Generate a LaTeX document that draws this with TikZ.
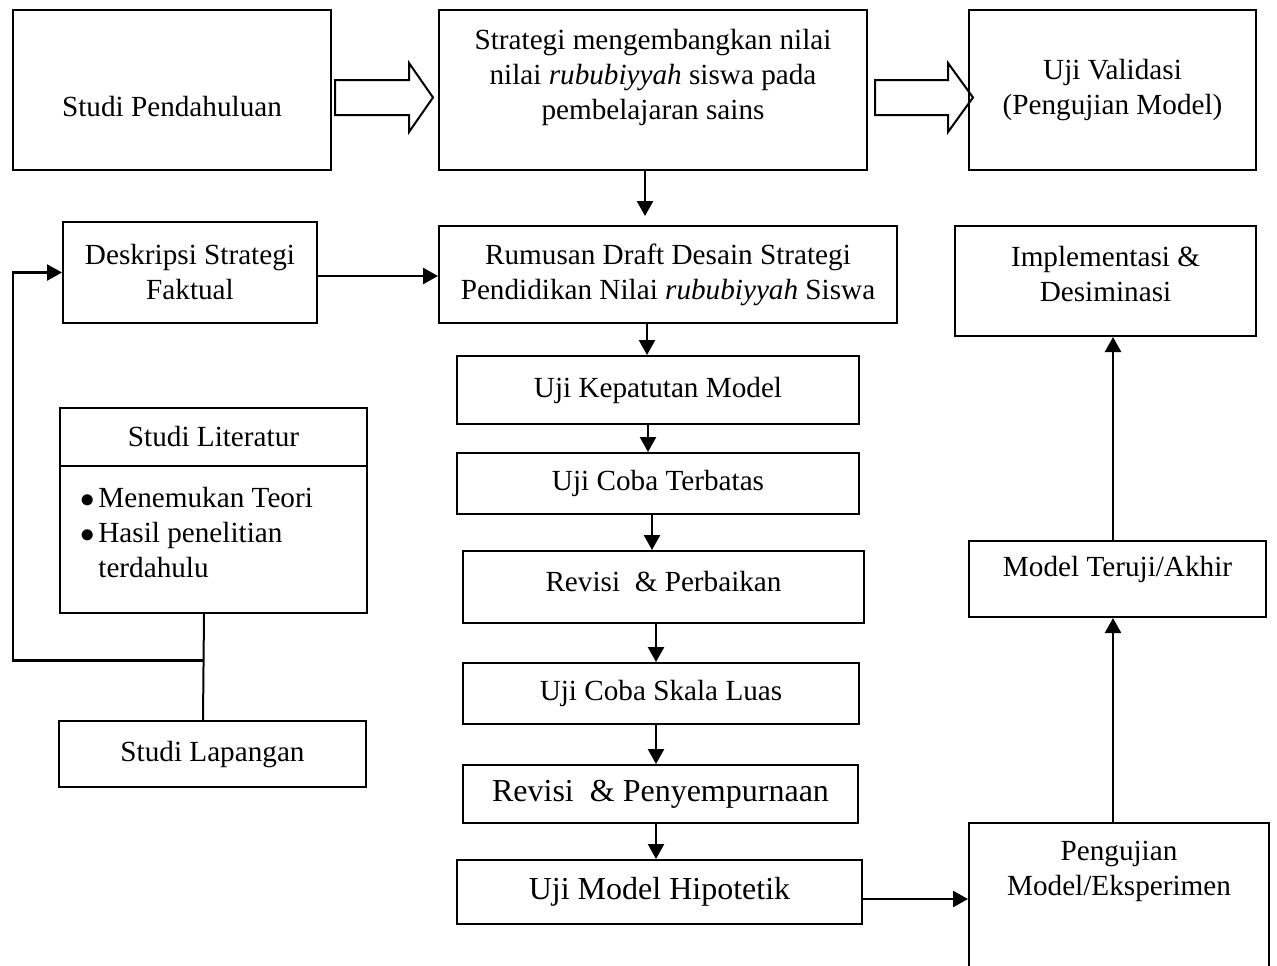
\documentclass[tikz,border=0pt]{standalone}
\usepackage{fontspec}
\setmainfont{Liberation Serif}
\usetikzlibrary{arrows.meta,shapes.multipart}

\begin{document}
\begin{tikzpicture}[
  x=0.5pt, y=-0.5pt,
  font=\fontsize{14.6pt}{17.5pt}\selectfont,
  box/.style={
    draw,
    line width=1pt,
    align=center,
    inner sep=0pt
  },
  bigtext/.style={font=\fontsize{16pt}{19pt}\selectfont},
  flow/.style={-{Triangle[length=7.5pt,width=8pt]}, line width=1.2pt},
  link/.style={line width=1pt},
  hollow/.style={draw, line width=1pt, line join=miter}
]
\useasboundingbox (0,0) rectangle (1277,965);

% Top row
\node[box, minimum width=159pt, minimum height=80pt] (pendahuluan) at (172,90) {\rule{0pt}{27pt}Studi Pendahuluan};
\node[box, minimum width=214pt, minimum height=80pt] (strategi) at (653,90) {Strategi mengembangkan nilai\\nilai \textit{rububiyyah} siswa pada\\pembelajaran sains\rule[-16pt]{0pt}{0pt}};
\node[box, minimum width=143.5pt, minimum height=80pt] (validasi) at (1112.5,90) {Uji Validasi\\(Pengujian Model)};

% Left column: studies
\node[box, minimum width=127pt, minimum height=50.5pt] (deskripsi) at (190,272.5) {Deskripsi Strategi\\Faktual};
\node[box, rectangle split, rectangle split parts=2, text width=133.5pt,
      inner xsep=10pt, inner ysep=8.75pt, align=flush left, anchor=north west] (literatur) at (59,407)
  {\centering Studi Literatur\par
   \nodepart{two}\rule{0pt}{11.5pt}$\bullet$\hspace{2pt}Menemukan Teori\\
   $\bullet$\hspace{2pt}Hasil penelitian\\
   \hphantom{$\bullet$\hspace{2pt}}terdahulu\rule[-8.5pt]{0pt}{0pt}};
\node[box, minimum width=153.5pt, minimum height=33pt] (lapangan) at (212.5,754) {Studi Lapangan};

% Middle column: draft and trials
\node[box, minimum width=229pt, minimum height=48.5pt] (rumusan) at (668,274.5) {Rumusan Draft Desain Strategi\\Pendidikan Nilai \textit{rububiyyah} Siswa};
\node[box, minimum width=201pt, minimum height=34pt] (kepatutan) at (658,390) {Uji Kepatutan Model};
\node[box, minimum width=201pt, minimum height=30.5pt] (terbatas) at (658,483.5) {Uji Coba Terbatas};
\node[box, minimum width=200.5pt, minimum height=36pt] (perbaikan) at (663.5,587) {Revisi\ \ \& Perbaikan\rule[-6pt]{0pt}{0pt}};
\node[box, minimum width=198pt, minimum height=30.5pt] (skala) at (661,693.5) {Uji Coba Skala Luas};
\node[box, bigtext, minimum width=197.5pt, minimum height=29pt] (penyempurnaan) at (660.5,794) {Revisi\ \ \& Penyempurnaan};
\node[box, bigtext, minimum width=202.5pt, minimum height=32pt] (hipotetik) at (659.5,892) {Uji Model Hipotetik};

% Right column: validation
\node[box, minimum width=150.5pt, minimum height=55pt] (implementasi) at (1105.5,281) {Implementasi \&\\Desiminasi\rule[-7.5pt]{0pt}{0pt}};
\node[box, minimum width=148.5pt, minimum height=38pt] (teruji) at (1117.5,579) {Model Teruji/Akhir\rule[-13pt]{0pt}{0pt}};
\node[box, minimum width=150pt, minimum height=90pt] (pengujian) at (1119,913) {Pengujian\\Model/Eksperimen\rule[-44.5pt]{0pt}{0pt}};

% Block arrows
\draw[hollow] (pendahuluan.east) ++(3,-10) -- ++(74,0) -- ++(0,-17) -- ++(24,34.5) -- ++(-24,34.5) -- ++(0,-17) -- ++(-74,0) -- cycle;
\draw[hollow] (strategi.east) ++(7,-10) -- ++(73,0) -- ++(0,-17) -- ++(25,34.5) -- ++(-25,34.5) -- ++(0,-17) -- ++(-73,0) -- cycle;

% Main flow
\draw[flow] ([xshift=-4pt]strategi.south) -- ([xshift=-11.5pt,yshift=4.5pt]rumusan.north);
\draw[flow] ([xshift=-10.5pt]rumusan.south) -- ([xshift=-5.5pt]kepatutan.north);
\draw[flow] ([xshift=-5pt]kepatutan.south) -- ([xshift=-5pt]terbatas.north);
\draw[flow] ([xshift=-3pt]terbatas.south) -- ([xshift=-5.75pt]perbaikan.north);
\draw[flow] ([xshift=-3.75pt]perbaikan.south) -- ([xshift=-2.5pt]skala.north);
\draw[flow] ([xshift=-2.5pt]skala.south) -- ([xshift=-2.25pt]penyempurnaan.north);
\draw[flow] ([xshift=-2.25pt]penyempurnaan.south) -- ([xshift=-1.75pt]hipotetik.north);
\draw[flow] ([yshift=-3.5pt]hipotetik.east) -- ([yshift=7pt]pengujian.west);
\draw[flow] ([xshift=-3pt]pengujian.north) -- ([xshift=-2.25pt]teruji.south);
\draw[flow] ([xshift=-2.25pt]teruji.north) -- ([xshift=3.75pt]implementasi.south);

% Studies feed the factual description
\draw[flow] ([yshift=-1.75pt]deskripsi.east) -- ([yshift=-0.75pt]rumusan.west);
\draw[link] ([xshift=-4.75pt]literatur.south) -- ([xshift=-4.75pt]lapangan.north);
\coordinate (join) at ([xshift=-4.75pt,yshift=-23.5pt]literatur.south);
\draw[flow] (join) -- ++(-191,0) |- (deskripsi.west);

\end{tikzpicture}
\end{document}
